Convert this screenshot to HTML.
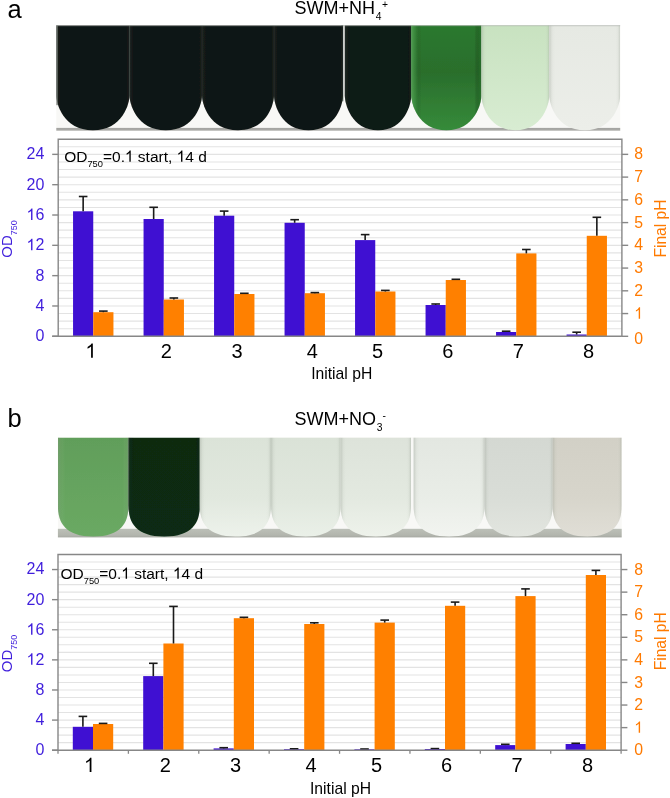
<!DOCTYPE html>
<html><head><meta charset="utf-8">
<style>
html,body{margin:0;padding:0;background:#fff;}
body{width:670px;height:798px;overflow:hidden;}
svg{display:block;font-family:"Liberation Sans", sans-serif;will-change:transform;}
</style></head><body>
<svg width="670" height="798" viewBox="0 0 670 798">
<defs>
<linearGradient id="rimD" x1="0" x2="1" y1="0" y2="0">
<stop offset="0" stop-color="#3a423c" stop-opacity="0.5"/><stop offset="0.03" stop-color="#2a302c" stop-opacity="0.2"/><stop offset="0.08" stop-color="#000" stop-opacity="0"/><stop offset="0.94" stop-color="#000" stop-opacity="0"/><stop offset="0.985" stop-color="#2a302c" stop-opacity="0.25"/><stop offset="1" stop-color="#3a423c" stop-opacity="0.5"/>
</linearGradient>
<linearGradient id="rimL" x1="0" x2="1" y1="0" y2="0">
<stop offset="0" stop-color="#8f978c" stop-opacity="0.35"/><stop offset="0.04" stop-color="#9aa396" stop-opacity="0.08"/><stop offset="0.1" stop-color="#fff" stop-opacity="0"/><stop offset="0.92" stop-color="#fff" stop-opacity="0"/><stop offset="0.97" stop-color="#9aa396" stop-opacity="0.08"/><stop offset="1" stop-color="#8f978c" stop-opacity="0.35"/>
</linearGradient>
<linearGradient id="g6" x1="0" x2="0" y1="0" y2="1">
<stop offset="0" stop-color="#2c792f"/><stop offset="0.45" stop-color="#2a6e2c"/><stop offset="1" stop-color="#368b3a"/>
</linearGradient>
<linearGradient id="g7" x1="0" x2="0" y1="0" y2="1">
<stop offset="0" stop-color="#c8e2c0"/><stop offset="1" stop-color="#d8ecd2"/>
</linearGradient>
<linearGradient id="g8" x1="0" x2="0" y1="0" y2="1">
<stop offset="0" stop-color="#e6e9e3"/><stop offset="1" stop-color="#eceee9"/>
</linearGradient>
<linearGradient id="b1" x1="0" x2="0" y1="0" y2="1">
<stop offset="0" stop-color="#619e5a"/><stop offset="1" stop-color="#6aa963"/>
</linearGradient>
<linearGradient id="b2" x1="0" x2="0" y1="0" y2="1">
<stop offset="0" stop-color="#072a11"/><stop offset="1" stop-color="#082c12"/>
</linearGradient>
<linearGradient id="t3" x1="0" x2="0" y1="0" y2="1"><stop offset="0" stop-color="#dbe3d8"/><stop offset="0.6" stop-color="#e1e8de"/><stop offset="1" stop-color="#edf2eb"/></linearGradient>
<linearGradient id="t4" x1="0" x2="0" y1="0" y2="1"><stop offset="0" stop-color="#dae2d7"/><stop offset="0.6" stop-color="#e0e7dd"/><stop offset="1" stop-color="#eaf0e8"/></linearGradient>
<linearGradient id="t5" x1="0" x2="0" y1="0" y2="1"><stop offset="0" stop-color="#dde3da"/><stop offset="0.6" stop-color="#e3e9e0"/><stop offset="1" stop-color="#eef2eb"/></linearGradient>
<linearGradient id="t6" x1="0" x2="0" y1="0" y2="1"><stop offset="0" stop-color="#e3e7e1"/><stop offset="0.6" stop-color="#e9ede7"/><stop offset="1" stop-color="#f2f4f0"/></linearGradient>
<linearGradient id="t7" x1="0" x2="0" y1="0" y2="1"><stop offset="0" stop-color="#d4d8d2"/><stop offset="0.6" stop-color="#d9ddd7"/><stop offset="1" stop-color="#e2e5df"/></linearGradient>
<linearGradient id="t8" x1="0" x2="0" y1="0" y2="1"><stop offset="0" stop-color="#d2d0c6"/><stop offset="0.6" stop-color="#d7d5cb"/><stop offset="1" stop-color="#e0ded6"/></linearGradient>
<linearGradient id="rimG" x1="0" x2="1" y1="0" y2="0">
<stop offset="0" stop-color="#5aa85a" stop-opacity="0.8"/><stop offset="0.06" stop-color="#4c9c4e" stop-opacity="0.3"/><stop offset="0.14" stop-color="#000" stop-opacity="0"/><stop offset="0.9" stop-color="#000" stop-opacity="0"/><stop offset="0.97" stop-color="#1d5a20" stop-opacity="0.4"/><stop offset="1" stop-color="#2c6e2e" stop-opacity="0.6"/>
</linearGradient>
<linearGradient id="greyA" x1="0" x2="0" y1="0" y2="1">
<stop offset="0" stop-color="#a3a3a0"/><stop offset="0.6" stop-color="#a9a9a6"/><stop offset="1" stop-color="#d8d8d6"/>
</linearGradient>
<linearGradient id="greyB" x1="0" x2="0" y1="0" y2="1">
<stop offset="0" stop-color="#bcc0b8"/><stop offset="0.75" stop-color="#b2b5ad"/><stop offset="1" stop-color="#a6a8a2"/>
</linearGradient>
<filter id="soft" x="-5%" y="-5%" width="110%" height="110%"><feGaussianBlur stdDeviation="0.7"/></filter>
<clipPath id="clipA"><rect x="56.3" y="25.2" width="563.9" height="105.8"/></clipPath>
<clipPath id="clipB"><rect x="57.9" y="437.4" width="563.8" height="100"/></clipPath>
</defs>

<text x="7.4" y="17.6" font-size="25.5" fill="#000">a</text>
<text x="294.4" y="13.9" font-size="18" fill="#000">SWM+NH<tspan font-size="10.3" dx="0.8" dy="5.7">4</tspan><tspan font-size="10.3" dx="0.6" dy="-11.6">+</tspan></text>
<text x="7.6" y="426.5" font-size="25.5" fill="#000">b</text>
<text x="294.4" y="424.6" font-size="18" fill="#000">SWM+NO<tspan font-size="10.3" dx="0.8" dy="6.4">3</tspan><tspan font-size="10.3" dy="-11.9">-</tspan></text>
<rect x="56.3" y="25.2" width="563.9000000000001" height="105.8" fill="#f8f8f6"/>
<rect x="56.3" y="127.9" width="563.9000000000001" height="3.0999999999999943" fill="url(#greyA)"/>
<rect x="341.3" y="25.2" width="2.1" height="76" fill="#7f8f85"/>
<g clip-path="url(#clipA)"><g filter="url(#soft)">
<path d="M56.3,25.2 L56.3,95.2 C56.3,103.2 62.9,130.2 92.9,130.2 C122.9,130.2 129.5,103.2 129.5,95.2 L129.5,25.2 Z" fill="#101614"/>
<path d="M56.3,25.2 L56.3,95.2 C56.3,103.2 62.9,130.2 92.9,130.2 C122.9,130.2 129.5,103.2 129.5,95.2 L129.5,25.2 Z" fill="url(#rimD)"/>
<path d="M129.5,25.2 L129.5,95.2 C129.5,103.2 136.0,130.2 165.8,130.2 C195.5,130.2 202.0,103.2 202.0,95.2 L202.0,25.2 Z" fill="#101614"/>
<path d="M129.5,25.2 L129.5,95.2 C129.5,103.2 136.0,130.2 165.8,130.2 C195.5,130.2 202.0,103.2 202.0,95.2 L202.0,25.2 Z" fill="url(#rimD)"/>
<path d="M202.0,25.2 L202.0,95.2 C202.0,103.2 208.5,130.2 238.0,130.2 C267.5,130.2 274.0,103.2 274.0,95.2 L274.0,25.2 Z" fill="#101614"/>
<path d="M202.0,25.2 L202.0,95.2 C202.0,103.2 208.5,130.2 238.0,130.2 C267.5,130.2 274.0,103.2 274.0,95.2 L274.0,25.2 Z" fill="url(#rimD)"/>
<path d="M274.0,25.2 L274.0,95.2 C274.0,103.2 280.2,130.2 308.5,130.2 C336.8,130.2 343.0,103.2 343.0,95.2 L343.0,25.2 Z" fill="#101614"/>
<path d="M274.0,25.2 L274.0,95.2 C274.0,103.2 280.2,130.2 308.5,130.2 C336.8,130.2 343.0,103.2 343.0,95.2 L343.0,25.2 Z" fill="url(#rimD)"/>
<path d="M344.8,25.2 L344.8,95.2 C344.8,103.2 350.8,130.2 378.1,130.2 C405.3,130.2 411.3,103.2 411.3,95.2 L411.3,25.2 Z" fill="#101a15"/>
<path d="M344.8,25.2 L344.8,95.2 C344.8,103.2 350.8,130.2 378.1,130.2 C405.3,130.2 411.3,103.2 411.3,95.2 L411.3,25.2 Z" fill="url(#rimD)"/>
<path d="M411.3,25.2 L411.3,95.2 C411.3,103.2 417.6,130.2 446.4,130.2 C475.1,130.2 481.4,103.2 481.4,95.2 L481.4,25.2 Z" fill="url(#g6)"/>
<path d="M411.3,25.2 L411.3,95.2 C411.3,103.2 417.6,130.2 446.4,130.2 C475.1,130.2 481.4,103.2 481.4,95.2 L481.4,25.2 Z" fill="url(#rimG)"/>
<path d="M481.4,25.2 L481.4,95.2 C481.4,103.2 487.5,130.2 515.3,130.2 C543.2,130.2 549.3,103.2 549.3,95.2 L549.3,25.2 Z" fill="url(#g7)"/>
<path d="M481.4,25.2 L481.4,95.2 C481.4,103.2 487.5,130.2 515.3,130.2 C543.2,130.2 549.3,103.2 549.3,95.2 L549.3,25.2 Z" fill="url(#rimL)"/>
<path d="M549.3,25.2 L549.3,95.2 C549.3,103.2 555.7,130.2 584.8,130.2 C613.8,130.2 620.2,103.2 620.2,95.2 L620.2,25.2 Z" fill="url(#g8)"/>
<path d="M549.3,25.2 L549.3,95.2 C549.3,103.2 555.7,130.2 584.8,130.2 C613.8,130.2 620.2,103.2 620.2,95.2 L620.2,25.2 Z" fill="url(#rimL)"/>
</g></g>
<rect x="56.3" y="25.2" width="1.6" height="80" fill="#6d726e" opacity="0.8"/>
<rect x="56.3" y="25.2" width="563.9" height="1" fill="#a9ada9" opacity="0.6"/>
<rect x="57.9" y="437.4" width="563.8000000000001" height="100.0" fill="#f8f8f6"/>
<rect x="57.9" y="528.8" width="563.8000000000001" height="8.600000000000023" fill="url(#greyB)"/>
<g clip-path="url(#clipB)"><g filter="url(#soft)">
<path d="M57.9,437.4 L57.9,505.6 C57.9,523.0 65.3,536.6 93.2,536.6 C121.1,536.6 128.5,523.0 128.5,505.6 L128.5,437.4 Z" fill="url(#b1)"/>
<path d="M57.9,437.4 L57.9,505.6 C57.9,523.0 65.3,536.6 93.2,536.6 C121.1,536.6 128.5,523.0 128.5,505.6 L128.5,437.4 Z" fill="url(#rimL)"/>
<path d="M128.5,437.4 L128.5,505.6 C128.5,523.0 136.0,536.6 164.2,536.6 C192.3,536.6 199.8,523.0 199.8,505.6 L199.8,437.4 Z" fill="url(#b2)"/>
<path d="M128.5,437.4 L128.5,505.6 C128.5,523.0 136.0,536.6 164.2,536.6 C192.3,536.6 199.8,523.0 199.8,505.6 L199.8,437.4 Z" fill="url(#rimD)"/>
<path d="M199.8,437.4 L199.8,505.6 C199.8,523.0 207.3,536.6 235.4,536.6 C263.5,536.6 271.0,523.0 271.0,505.6 L271.0,437.4 Z" fill="url(#t3)"/>
<path d="M199.8,437.4 L199.8,505.6 C199.8,523.0 207.3,536.6 235.4,536.6 C263.5,536.6 271.0,523.0 271.0,505.6 L271.0,437.4 Z" fill="url(#rimL)"/>
<path d="M271.0,437.4 L271.0,505.6 C271.0,523.0 278.3,536.6 305.8,536.6 C333.3,536.6 340.6,523.0 340.6,505.6 L340.6,437.4 Z" fill="url(#t4)"/>
<path d="M271.0,437.4 L271.0,505.6 C271.0,523.0 278.3,536.6 305.8,536.6 C333.3,536.6 340.6,523.0 340.6,505.6 L340.6,437.4 Z" fill="url(#rimL)"/>
<path d="M340.6,437.4 L340.6,505.6 C340.6,523.0 348.0,536.6 375.8,536.6 C403.6,536.6 411.0,523.0 411.0,505.6 L411.0,437.4 Z" fill="url(#t5)"/>
<path d="M340.6,437.4 L340.6,505.6 C340.6,523.0 348.0,536.6 375.8,536.6 C403.6,536.6 411.0,523.0 411.0,505.6 L411.0,437.4 Z" fill="url(#rimL)"/>
<path d="M413.6,437.4 L413.6,505.6 C413.6,523.0 421.0,536.6 449.1,536.6 C477.1,536.6 484.5,523.0 484.5,505.6 L484.5,437.4 Z" fill="url(#t6)"/>
<path d="M413.6,437.4 L413.6,505.6 C413.6,523.0 421.0,536.6 449.1,536.6 C477.1,536.6 484.5,523.0 484.5,505.6 L484.5,437.4 Z" fill="url(#rimL)"/>
<path d="M484.5,437.4 L484.5,505.6 C484.5,523.0 491.7,536.6 518.5,536.6 C545.4,536.6 552.6,523.0 552.6,505.6 L552.6,437.4 Z" fill="url(#t7)"/>
<path d="M484.5,437.4 L484.5,505.6 C484.5,523.0 491.7,536.6 518.5,536.6 C545.4,536.6 552.6,523.0 552.6,505.6 L552.6,437.4 Z" fill="url(#rimL)"/>
<path d="M552.6,437.4 L552.6,505.6 C552.6,523.0 559.9,536.6 587.2,536.6 C614.4,536.6 621.7,523.0 621.7,505.6 L621.7,437.4 Z" fill="url(#t8)"/>
<path d="M552.6,437.4 L552.6,505.6 C552.6,523.0 559.9,536.6 587.2,536.6 C614.4,536.6 621.7,523.0 621.7,505.6 L621.7,437.4 Z" fill="url(#rimL)"/>
</g></g>
<line x1="58.2" x2="621.9" y1="328.72" y2="328.72" stroke="#e3e3e3" stroke-width="1.1"/>
<line x1="58.2" x2="621.9" y1="321.14" y2="321.14" stroke="#e3e3e3" stroke-width="1.1"/>
<line x1="58.2" x2="621.9" y1="313.56" y2="313.56" stroke="#e3e3e3" stroke-width="1.1"/>
<line x1="58.2" x2="621.9" y1="305.98" y2="305.98" stroke="#e3e3e3" stroke-width="1.1"/>
<line x1="58.2" x2="621.9" y1="298.40" y2="298.40" stroke="#e3e3e3" stroke-width="1.1"/>
<line x1="58.2" x2="621.9" y1="290.82" y2="290.82" stroke="#e3e3e3" stroke-width="1.1"/>
<line x1="58.2" x2="621.9" y1="283.23" y2="283.23" stroke="#e3e3e3" stroke-width="1.1"/>
<line x1="58.2" x2="621.9" y1="275.65" y2="275.65" stroke="#e3e3e3" stroke-width="1.1"/>
<line x1="58.2" x2="621.9" y1="268.07" y2="268.07" stroke="#e3e3e3" stroke-width="1.1"/>
<line x1="58.2" x2="621.9" y1="260.49" y2="260.49" stroke="#e3e3e3" stroke-width="1.1"/>
<line x1="58.2" x2="621.9" y1="252.91" y2="252.91" stroke="#e3e3e3" stroke-width="1.1"/>
<line x1="58.2" x2="621.9" y1="245.33" y2="245.33" stroke="#e3e3e3" stroke-width="1.1"/>
<line x1="58.2" x2="621.9" y1="237.75" y2="237.75" stroke="#e3e3e3" stroke-width="1.1"/>
<line x1="58.2" x2="621.9" y1="230.17" y2="230.17" stroke="#e3e3e3" stroke-width="1.1"/>
<line x1="58.2" x2="621.9" y1="222.59" y2="222.59" stroke="#e3e3e3" stroke-width="1.1"/>
<line x1="58.2" x2="621.9" y1="215.01" y2="215.01" stroke="#e3e3e3" stroke-width="1.1"/>
<line x1="58.2" x2="621.9" y1="207.43" y2="207.43" stroke="#e3e3e3" stroke-width="1.1"/>
<line x1="58.2" x2="621.9" y1="199.85" y2="199.85" stroke="#e3e3e3" stroke-width="1.1"/>
<line x1="58.2" x2="621.9" y1="192.27" y2="192.27" stroke="#e3e3e3" stroke-width="1.1"/>
<line x1="58.2" x2="621.9" y1="184.68" y2="184.68" stroke="#e3e3e3" stroke-width="1.1"/>
<line x1="58.2" x2="621.9" y1="177.10" y2="177.10" stroke="#e3e3e3" stroke-width="1.1"/>
<line x1="58.2" x2="621.9" y1="169.52" y2="169.52" stroke="#e3e3e3" stroke-width="1.1"/>
<line x1="58.2" x2="621.9" y1="161.94" y2="161.94" stroke="#e3e3e3" stroke-width="1.1"/>
<line x1="58.2" x2="621.9" y1="154.36" y2="154.36" stroke="#e3e3e3" stroke-width="1.1"/>
<line x1="58.2" x2="621.9" y1="146.78" y2="146.78" stroke="#e3e3e3" stroke-width="1.1"/>
<text x="64.20" y="161.70" font-size="15.5" fill="#000"  xml:space="preserve">OD</text>
<text x="87.45" y="167.00" font-size="9.3" fill="#000">750</text>
<text x="102.97" y="161.70" font-size="15.5" fill="#000"  xml:space="preserve">=0.</text>
<path d="M0.373,0 L0.285,0 L0.285,-0.560 C0.264,-0.540 0.236,-0.519 0.201,-0.499 C0.166,-0.478 0.135,-0.463 0.109,-0.453 L0.109,-0.538 C0.156,-0.560 0.197,-0.587 0.232,-0.618 C0.267,-0.649 0.292,-0.681 0.307,-0.716 L0.373,-0.716 Z" transform="translate(124.95,161.70) scale(15.5)" fill="#000"/>
<text x="133.57" y="161.70" font-size="15.5" fill="#000"  xml:space="preserve"> start, </text>
<path d="M0.373,0 L0.285,0 L0.285,-0.560 C0.264,-0.540 0.236,-0.519 0.201,-0.499 C0.166,-0.478 0.135,-0.463 0.109,-0.453 L0.109,-0.538 C0.156,-0.560 0.197,-0.587 0.232,-0.618 C0.267,-0.649 0.292,-0.681 0.307,-0.716 L0.373,-0.716 Z" transform="translate(176.63,161.70) scale(15.5)" fill="#000"/>
<text x="185.25" y="161.70" font-size="15.5" fill="#000"  xml:space="preserve">4 d</text>
<rect x="73.05" y="211.30" width="20.20" height="125.00" fill="#3f10d2"/>
<rect x="93.25" y="312.20" width="20.20" height="24.10" fill="#ff8000"/>
<line x1="83.15" x2="83.15" y1="211.30" y2="196.50" stroke="#1a1a1a" stroke-width="1.6"/>
<line x1="78.85" x2="87.45" y1="196.50" y2="196.50" stroke="#1a1a1a" stroke-width="1.6"/>
<line x1="103.35" x2="103.35" y1="312.20" y2="311.10" stroke="#1a1a1a" stroke-width="1.6"/>
<line x1="99.05" x2="107.65" y1="311.10" y2="311.10" stroke="#1a1a1a" stroke-width="1.6"/>
<rect x="143.55" y="219.00" width="20.20" height="117.30" fill="#3f10d2"/>
<rect x="163.75" y="299.50" width="20.20" height="36.80" fill="#ff8000"/>
<line x1="153.65" x2="153.65" y1="219.00" y2="207.30" stroke="#1a1a1a" stroke-width="1.6"/>
<line x1="149.35" x2="157.95" y1="207.30" y2="207.30" stroke="#1a1a1a" stroke-width="1.6"/>
<line x1="173.85" x2="173.85" y1="299.50" y2="298.00" stroke="#1a1a1a" stroke-width="1.6"/>
<line x1="169.55" x2="178.15" y1="298.00" y2="298.00" stroke="#1a1a1a" stroke-width="1.6"/>
<rect x="214.05" y="215.70" width="20.20" height="120.60" fill="#3f10d2"/>
<rect x="234.25" y="294.00" width="20.20" height="42.30" fill="#ff8000"/>
<line x1="224.15" x2="224.15" y1="215.70" y2="211.10" stroke="#1a1a1a" stroke-width="1.6"/>
<line x1="219.85" x2="228.45" y1="211.10" y2="211.10" stroke="#1a1a1a" stroke-width="1.6"/>
<line x1="244.35" x2="244.35" y1="294.00" y2="293.30" stroke="#1a1a1a" stroke-width="1.6"/>
<line x1="240.05" x2="248.65" y1="293.30" y2="293.30" stroke="#1a1a1a" stroke-width="1.6"/>
<rect x="284.55" y="222.80" width="20.20" height="113.50" fill="#3f10d2"/>
<rect x="304.75" y="293.20" width="20.20" height="43.10" fill="#ff8000"/>
<line x1="294.65" x2="294.65" y1="222.80" y2="219.70" stroke="#1a1a1a" stroke-width="1.6"/>
<line x1="290.35" x2="298.95" y1="219.70" y2="219.70" stroke="#1a1a1a" stroke-width="1.6"/>
<line x1="314.85" x2="314.85" y1="293.20" y2="292.60" stroke="#1a1a1a" stroke-width="1.6"/>
<line x1="310.55" x2="319.15" y1="292.60" y2="292.60" stroke="#1a1a1a" stroke-width="1.6"/>
<rect x="355.05" y="240.10" width="20.20" height="96.20" fill="#3f10d2"/>
<rect x="375.25" y="291.50" width="20.20" height="44.80" fill="#ff8000"/>
<line x1="365.15" x2="365.15" y1="240.10" y2="234.60" stroke="#1a1a1a" stroke-width="1.6"/>
<line x1="360.85" x2="369.45" y1="234.60" y2="234.60" stroke="#1a1a1a" stroke-width="1.6"/>
<line x1="385.35" x2="385.35" y1="291.50" y2="290.40" stroke="#1a1a1a" stroke-width="1.6"/>
<line x1="381.05" x2="389.65" y1="290.40" y2="290.40" stroke="#1a1a1a" stroke-width="1.6"/>
<rect x="425.55" y="305.00" width="20.20" height="31.30" fill="#3f10d2"/>
<rect x="445.75" y="280.00" width="20.20" height="56.30" fill="#ff8000"/>
<line x1="435.65" x2="435.65" y1="305.00" y2="304.00" stroke="#1a1a1a" stroke-width="1.6"/>
<line x1="431.35" x2="439.95" y1="304.00" y2="304.00" stroke="#1a1a1a" stroke-width="1.6"/>
<line x1="455.85" x2="455.85" y1="280.00" y2="279.30" stroke="#1a1a1a" stroke-width="1.6"/>
<line x1="451.55" x2="460.15" y1="279.30" y2="279.30" stroke="#1a1a1a" stroke-width="1.6"/>
<rect x="496.05" y="332.00" width="20.20" height="4.30" fill="#3f10d2"/>
<rect x="516.25" y="253.40" width="20.20" height="82.90" fill="#ff8000"/>
<line x1="506.15" x2="506.15" y1="332.00" y2="331.20" stroke="#1a1a1a" stroke-width="1.6"/>
<line x1="501.85" x2="510.45" y1="331.20" y2="331.20" stroke="#1a1a1a" stroke-width="1.6"/>
<line x1="526.35" x2="526.35" y1="253.40" y2="249.50" stroke="#1a1a1a" stroke-width="1.6"/>
<line x1="522.05" x2="530.65" y1="249.50" y2="249.50" stroke="#1a1a1a" stroke-width="1.6"/>
<rect x="566.55" y="334.50" width="20.20" height="1.80" fill="#3f10d2"/>
<rect x="586.75" y="235.80" width="20.20" height="100.50" fill="#ff8000"/>
<line x1="576.65" x2="576.65" y1="334.50" y2="332.20" stroke="#1a1a1a" stroke-width="1.6"/>
<line x1="572.35" x2="580.95" y1="332.20" y2="332.20" stroke="#1a1a1a" stroke-width="1.6"/>
<line x1="596.85" x2="596.85" y1="235.80" y2="217.30" stroke="#1a1a1a" stroke-width="1.6"/>
<line x1="592.55" x2="601.15" y1="217.30" y2="217.30" stroke="#1a1a1a" stroke-width="1.6"/>
<path d="M58.2,336.3 L58.2,139.2 L621.9,139.2 L621.9,336.3" fill="none" stroke="#878787" stroke-width="1.4"/>
<line x1="52.2" x2="621.9" y1="336.3" y2="336.3" stroke="#878787" stroke-width="1.4"/>
<line x1="52.2" x2="58.2" y1="336.30" y2="336.30" stroke="#878787" stroke-width="1.4"/>
<text x="35.40" y="341.20" font-size="16" fill="#3f1edc"  xml:space="preserve">0</text>
<line x1="52.2" x2="58.2" y1="305.98" y2="305.98" stroke="#878787" stroke-width="1.4"/>
<text x="35.40" y="310.88" font-size="16" fill="#3f1edc"  xml:space="preserve">4</text>
<line x1="52.2" x2="58.2" y1="275.65" y2="275.65" stroke="#878787" stroke-width="1.4"/>
<text x="35.40" y="280.55" font-size="16" fill="#3f1edc"  xml:space="preserve">8</text>
<line x1="52.2" x2="58.2" y1="245.33" y2="245.33" stroke="#878787" stroke-width="1.4"/>
<path d="M0.373,0 L0.285,0 L0.285,-0.560 C0.264,-0.540 0.236,-0.519 0.201,-0.499 C0.166,-0.478 0.135,-0.463 0.109,-0.453 L0.109,-0.538 C0.156,-0.560 0.197,-0.587 0.232,-0.618 C0.267,-0.649 0.292,-0.681 0.307,-0.716 L0.373,-0.716 Z" transform="translate(26.50,250.23) scale(16)" fill="#3f1edc"/>
<text x="35.40" y="250.23" font-size="16" fill="#3f1edc"  xml:space="preserve">2</text>
<line x1="52.2" x2="58.2" y1="215.01" y2="215.01" stroke="#878787" stroke-width="1.4"/>
<path d="M0.373,0 L0.285,0 L0.285,-0.560 C0.264,-0.540 0.236,-0.519 0.201,-0.499 C0.166,-0.478 0.135,-0.463 0.109,-0.453 L0.109,-0.538 C0.156,-0.560 0.197,-0.587 0.232,-0.618 C0.267,-0.649 0.292,-0.681 0.307,-0.716 L0.373,-0.716 Z" transform="translate(26.50,219.91) scale(16)" fill="#3f1edc"/>
<text x="35.40" y="219.91" font-size="16" fill="#3f1edc"  xml:space="preserve">6</text>
<line x1="52.2" x2="58.2" y1="184.68" y2="184.68" stroke="#878787" stroke-width="1.4"/>
<text x="26.50" y="189.58" font-size="16" fill="#3f1edc"  xml:space="preserve">20</text>
<line x1="52.2" x2="58.2" y1="154.36" y2="154.36" stroke="#878787" stroke-width="1.4"/>
<text x="26.50" y="159.26" font-size="16" fill="#3f1edc"  xml:space="preserve">24</text>
<line x1="621.9" x2="628.1999999999999" y1="336.30" y2="336.30" stroke="#878787" stroke-width="1.4"/>
<text x="634.2" y="343.70" font-size="15.8" fill="#ff7a00">0</text>
<line x1="621.9" x2="628.1999999999999" y1="313.56" y2="313.56" stroke="#878787" stroke-width="1.4"/>
<path d="M0.373,0 L0.285,0 L0.285,-0.560 C0.264,-0.540 0.236,-0.519 0.201,-0.499 C0.166,-0.478 0.135,-0.463 0.109,-0.453 L0.109,-0.538 C0.156,-0.560 0.197,-0.587 0.232,-0.618 C0.267,-0.649 0.292,-0.681 0.307,-0.716 L0.373,-0.716 Z" transform="translate(634.20,318.66) scale(15.8)" fill="#ff7a00"/>
<line x1="621.9" x2="628.1999999999999" y1="290.82" y2="290.82" stroke="#878787" stroke-width="1.4"/>
<text x="634.2" y="295.92" font-size="15.8" fill="#ff7a00">2</text>
<line x1="621.9" x2="628.1999999999999" y1="268.07" y2="268.07" stroke="#878787" stroke-width="1.4"/>
<text x="634.2" y="273.17" font-size="15.8" fill="#ff7a00">3</text>
<line x1="621.9" x2="628.1999999999999" y1="245.33" y2="245.33" stroke="#878787" stroke-width="1.4"/>
<text x="634.2" y="250.43" font-size="15.8" fill="#ff7a00">4</text>
<line x1="621.9" x2="628.1999999999999" y1="222.59" y2="222.59" stroke="#878787" stroke-width="1.4"/>
<text x="634.2" y="227.69" font-size="15.8" fill="#ff7a00">5</text>
<line x1="621.9" x2="628.1999999999999" y1="199.85" y2="199.85" stroke="#878787" stroke-width="1.4"/>
<text x="634.2" y="204.95" font-size="15.8" fill="#ff7a00">6</text>
<line x1="621.9" x2="628.1999999999999" y1="177.10" y2="177.10" stroke="#878787" stroke-width="1.4"/>
<text x="634.2" y="182.20" font-size="15.8" fill="#ff7a00">7</text>
<line x1="621.9" x2="628.1999999999999" y1="154.36" y2="154.36" stroke="#878787" stroke-width="1.4"/>
<text x="634.2" y="159.46" font-size="15.8" fill="#ff7a00">8</text>
<path d="M0.373,0 L0.285,0 L0.285,-0.560 C0.264,-0.540 0.236,-0.519 0.201,-0.499 C0.166,-0.478 0.135,-0.463 0.109,-0.453 L0.109,-0.538 C0.156,-0.560 0.197,-0.587 0.232,-0.618 C0.267,-0.649 0.292,-0.681 0.307,-0.716 L0.373,-0.716 Z" transform="translate(85.38,357.70) scale(20)" fill="#000"/>
<text x="166.40" y="357.7" font-size="20" fill="#000" text-anchor="middle">2</text>
<text x="237.00" y="357.7" font-size="20" fill="#000" text-anchor="middle">3</text>
<text x="312.30" y="357.7" font-size="20" fill="#000" text-anchor="middle">4</text>
<text x="377.60" y="357.7" font-size="20" fill="#000" text-anchor="middle">5</text>
<text x="447.70" y="357.7" font-size="20" fill="#000" text-anchor="middle">6</text>
<text x="518.40" y="357.7" font-size="20" fill="#000" text-anchor="middle">7</text>
<text x="588.60" y="357.7" font-size="20" fill="#000" text-anchor="middle">8</text>
<text x="311.2" y="379.2" font-size="15.7" fill="#000">Initial pH</text>
<text transform="translate(11.9,257.7) rotate(-90)" font-size="15" fill="#3f1edc">OD<tspan font-size="9" dy="5">750</tspan></text>
<text transform="translate(665.5,257.6) rotate(-90)" font-size="15.6" fill="#ff7a00">Final pH</text>
<line x1="58.0" x2="621.1" y1="742.67" y2="742.67" stroke="#e3e3e3" stroke-width="1.1"/>
<line x1="58.0" x2="621.1" y1="735.15" y2="735.15" stroke="#e3e3e3" stroke-width="1.1"/>
<line x1="58.0" x2="621.1" y1="727.62" y2="727.62" stroke="#e3e3e3" stroke-width="1.1"/>
<line x1="58.0" x2="621.1" y1="720.09" y2="720.09" stroke="#e3e3e3" stroke-width="1.1"/>
<line x1="58.0" x2="621.1" y1="712.57" y2="712.57" stroke="#e3e3e3" stroke-width="1.1"/>
<line x1="58.0" x2="621.1" y1="705.04" y2="705.04" stroke="#e3e3e3" stroke-width="1.1"/>
<line x1="58.0" x2="621.1" y1="697.51" y2="697.51" stroke="#e3e3e3" stroke-width="1.1"/>
<line x1="58.0" x2="621.1" y1="689.98" y2="689.98" stroke="#e3e3e3" stroke-width="1.1"/>
<line x1="58.0" x2="621.1" y1="682.46" y2="682.46" stroke="#e3e3e3" stroke-width="1.1"/>
<line x1="58.0" x2="621.1" y1="674.93" y2="674.93" stroke="#e3e3e3" stroke-width="1.1"/>
<line x1="58.0" x2="621.1" y1="667.40" y2="667.40" stroke="#e3e3e3" stroke-width="1.1"/>
<line x1="58.0" x2="621.1" y1="659.88" y2="659.88" stroke="#e3e3e3" stroke-width="1.1"/>
<line x1="58.0" x2="621.1" y1="652.35" y2="652.35" stroke="#e3e3e3" stroke-width="1.1"/>
<line x1="58.0" x2="621.1" y1="644.82" y2="644.82" stroke="#e3e3e3" stroke-width="1.1"/>
<line x1="58.0" x2="621.1" y1="637.30" y2="637.30" stroke="#e3e3e3" stroke-width="1.1"/>
<line x1="58.0" x2="621.1" y1="629.77" y2="629.77" stroke="#e3e3e3" stroke-width="1.1"/>
<line x1="58.0" x2="621.1" y1="622.24" y2="622.24" stroke="#e3e3e3" stroke-width="1.1"/>
<line x1="58.0" x2="621.1" y1="614.72" y2="614.72" stroke="#e3e3e3" stroke-width="1.1"/>
<line x1="58.0" x2="621.1" y1="607.19" y2="607.19" stroke="#e3e3e3" stroke-width="1.1"/>
<line x1="58.0" x2="621.1" y1="599.66" y2="599.66" stroke="#e3e3e3" stroke-width="1.1"/>
<line x1="58.0" x2="621.1" y1="592.13" y2="592.13" stroke="#e3e3e3" stroke-width="1.1"/>
<line x1="58.0" x2="621.1" y1="584.61" y2="584.61" stroke="#e3e3e3" stroke-width="1.1"/>
<line x1="58.0" x2="621.1" y1="577.08" y2="577.08" stroke="#e3e3e3" stroke-width="1.1"/>
<line x1="58.0" x2="621.1" y1="569.55" y2="569.55" stroke="#e3e3e3" stroke-width="1.1"/>
<line x1="58.0" x2="621.1" y1="562.03" y2="562.03" stroke="#e3e3e3" stroke-width="1.1"/>
<text x="60.50" y="578.70" font-size="15.5" fill="#000"  xml:space="preserve">OD</text>
<text x="83.75" y="584.00" font-size="9.3" fill="#000">750</text>
<text x="99.27" y="578.70" font-size="15.5" fill="#000"  xml:space="preserve">=0.</text>
<path d="M0.373,0 L0.285,0 L0.285,-0.560 C0.264,-0.540 0.236,-0.519 0.201,-0.499 C0.166,-0.478 0.135,-0.463 0.109,-0.453 L0.109,-0.538 C0.156,-0.560 0.197,-0.587 0.232,-0.618 C0.267,-0.649 0.292,-0.681 0.307,-0.716 L0.373,-0.716 Z" transform="translate(121.25,578.70) scale(15.5)" fill="#000"/>
<text x="129.87" y="578.70" font-size="15.5" fill="#000"  xml:space="preserve"> start, </text>
<path d="M0.373,0 L0.285,0 L0.285,-0.560 C0.264,-0.540 0.236,-0.519 0.201,-0.499 C0.166,-0.478 0.135,-0.463 0.109,-0.453 L0.109,-0.538 C0.156,-0.560 0.197,-0.587 0.232,-0.618 C0.267,-0.649 0.292,-0.681 0.307,-0.716 L0.373,-0.716 Z" transform="translate(172.93,578.70) scale(15.5)" fill="#000"/>
<text x="181.55" y="578.70" font-size="15.5" fill="#000"  xml:space="preserve">4 d</text>
<rect x="72.80" y="726.80" width="20.20" height="23.40" fill="#3f10d2"/>
<rect x="93.00" y="724.00" width="20.20" height="26.20" fill="#ff8000"/>
<line x1="82.90" x2="82.90" y1="726.80" y2="716.40" stroke="#1a1a1a" stroke-width="1.6"/>
<line x1="78.60" x2="87.20" y1="716.40" y2="716.40" stroke="#1a1a1a" stroke-width="1.6"/>
<line x1="103.10" x2="103.10" y1="724.00" y2="723.40" stroke="#1a1a1a" stroke-width="1.6"/>
<line x1="98.80" x2="107.40" y1="723.40" y2="723.40" stroke="#1a1a1a" stroke-width="1.6"/>
<rect x="143.20" y="676.10" width="20.20" height="74.10" fill="#3f10d2"/>
<rect x="163.40" y="643.50" width="20.20" height="106.70" fill="#ff8000"/>
<line x1="153.30" x2="153.30" y1="676.10" y2="663.30" stroke="#1a1a1a" stroke-width="1.6"/>
<line x1="149.00" x2="157.60" y1="663.30" y2="663.30" stroke="#1a1a1a" stroke-width="1.6"/>
<line x1="173.50" x2="173.50" y1="643.50" y2="606.40" stroke="#1a1a1a" stroke-width="1.6"/>
<line x1="169.20" x2="177.80" y1="606.40" y2="606.40" stroke="#1a1a1a" stroke-width="1.6"/>
<rect x="213.60" y="748.40" width="20.20" height="1.80" fill="#3f10d2"/>
<rect x="233.80" y="618.20" width="20.20" height="132.00" fill="#ff8000"/>
<line x1="223.70" x2="223.70" y1="748.40" y2="747.70" stroke="#1a1a1a" stroke-width="1.6"/>
<line x1="219.40" x2="228.00" y1="747.70" y2="747.70" stroke="#1a1a1a" stroke-width="1.6"/>
<line x1="243.90" x2="243.90" y1="618.20" y2="617.30" stroke="#1a1a1a" stroke-width="1.6"/>
<line x1="239.60" x2="248.20" y1="617.30" y2="617.30" stroke="#1a1a1a" stroke-width="1.6"/>
<rect x="284.00" y="749.20" width="20.20" height="1.00" fill="#3f10d2"/>
<rect x="304.20" y="624.00" width="20.20" height="126.20" fill="#ff8000"/>
<line x1="294.10" x2="294.10" y1="749.20" y2="748.80" stroke="#1a1a1a" stroke-width="1.6"/>
<line x1="289.80" x2="298.40" y1="748.80" y2="748.80" stroke="#1a1a1a" stroke-width="1.6"/>
<line x1="314.30" x2="314.30" y1="624.00" y2="622.80" stroke="#1a1a1a" stroke-width="1.6"/>
<line x1="310.00" x2="318.60" y1="622.80" y2="622.80" stroke="#1a1a1a" stroke-width="1.6"/>
<rect x="354.40" y="749.30" width="20.20" height="0.90" fill="#3f10d2"/>
<rect x="374.60" y="622.60" width="20.20" height="127.60" fill="#ff8000"/>
<line x1="360.20" x2="368.80" y1="749.00" y2="749.00" stroke="#1a1a1a" stroke-width="1.6"/>
<line x1="384.70" x2="384.70" y1="622.60" y2="620.10" stroke="#1a1a1a" stroke-width="1.6"/>
<line x1="380.40" x2="389.00" y1="620.10" y2="620.10" stroke="#1a1a1a" stroke-width="1.6"/>
<rect x="424.80" y="749.00" width="20.20" height="1.20" fill="#3f10d2"/>
<rect x="445.00" y="605.80" width="20.20" height="144.40" fill="#ff8000"/>
<line x1="434.90" x2="434.90" y1="749.00" y2="748.60" stroke="#1a1a1a" stroke-width="1.6"/>
<line x1="430.60" x2="439.20" y1="748.60" y2="748.60" stroke="#1a1a1a" stroke-width="1.6"/>
<line x1="455.10" x2="455.10" y1="605.80" y2="602.10" stroke="#1a1a1a" stroke-width="1.6"/>
<line x1="450.80" x2="459.40" y1="602.10" y2="602.10" stroke="#1a1a1a" stroke-width="1.6"/>
<rect x="495.20" y="745.10" width="20.20" height="5.10" fill="#3f10d2"/>
<rect x="515.40" y="596.10" width="20.20" height="154.10" fill="#ff8000"/>
<line x1="505.30" x2="505.30" y1="745.10" y2="744.30" stroke="#1a1a1a" stroke-width="1.6"/>
<line x1="501.00" x2="509.60" y1="744.30" y2="744.30" stroke="#1a1a1a" stroke-width="1.6"/>
<line x1="525.50" x2="525.50" y1="596.10" y2="588.90" stroke="#1a1a1a" stroke-width="1.6"/>
<line x1="521.20" x2="529.80" y1="588.90" y2="588.90" stroke="#1a1a1a" stroke-width="1.6"/>
<rect x="565.60" y="744.00" width="20.20" height="6.20" fill="#3f10d2"/>
<rect x="585.80" y="575.00" width="20.20" height="175.20" fill="#ff8000"/>
<line x1="575.70" x2="575.70" y1="744.00" y2="743.30" stroke="#1a1a1a" stroke-width="1.6"/>
<line x1="571.40" x2="580.00" y1="743.30" y2="743.30" stroke="#1a1a1a" stroke-width="1.6"/>
<line x1="595.90" x2="595.90" y1="575.00" y2="570.40" stroke="#1a1a1a" stroke-width="1.6"/>
<line x1="591.60" x2="600.20" y1="570.40" y2="570.40" stroke="#1a1a1a" stroke-width="1.6"/>
<path d="M58.0,750.2 L58.0,554.5 L621.1,554.5 L621.1,750.2" fill="none" stroke="#878787" stroke-width="1.4"/>
<line x1="52.0" x2="621.1" y1="750.2" y2="750.2" stroke="#878787" stroke-width="1.4"/>
<line x1="52.0" x2="58.0" y1="750.20" y2="750.20" stroke="#878787" stroke-width="1.4"/>
<text x="35.40" y="755.10" font-size="16" fill="#3f1edc"  xml:space="preserve">0</text>
<line x1="52.0" x2="58.0" y1="720.09" y2="720.09" stroke="#878787" stroke-width="1.4"/>
<text x="35.40" y="724.99" font-size="16" fill="#3f1edc"  xml:space="preserve">4</text>
<line x1="52.0" x2="58.0" y1="689.98" y2="689.98" stroke="#878787" stroke-width="1.4"/>
<text x="35.40" y="694.88" font-size="16" fill="#3f1edc"  xml:space="preserve">8</text>
<line x1="52.0" x2="58.0" y1="659.88" y2="659.88" stroke="#878787" stroke-width="1.4"/>
<path d="M0.373,0 L0.285,0 L0.285,-0.560 C0.264,-0.540 0.236,-0.519 0.201,-0.499 C0.166,-0.478 0.135,-0.463 0.109,-0.453 L0.109,-0.538 C0.156,-0.560 0.197,-0.587 0.232,-0.618 C0.267,-0.649 0.292,-0.681 0.307,-0.716 L0.373,-0.716 Z" transform="translate(26.50,664.78) scale(16)" fill="#3f1edc"/>
<text x="35.40" y="664.78" font-size="16" fill="#3f1edc"  xml:space="preserve">2</text>
<line x1="52.0" x2="58.0" y1="629.77" y2="629.77" stroke="#878787" stroke-width="1.4"/>
<path d="M0.373,0 L0.285,0 L0.285,-0.560 C0.264,-0.540 0.236,-0.519 0.201,-0.499 C0.166,-0.478 0.135,-0.463 0.109,-0.453 L0.109,-0.538 C0.156,-0.560 0.197,-0.587 0.232,-0.618 C0.267,-0.649 0.292,-0.681 0.307,-0.716 L0.373,-0.716 Z" transform="translate(26.50,634.67) scale(16)" fill="#3f1edc"/>
<text x="35.40" y="634.67" font-size="16" fill="#3f1edc"  xml:space="preserve">6</text>
<line x1="52.0" x2="58.0" y1="599.66" y2="599.66" stroke="#878787" stroke-width="1.4"/>
<text x="26.50" y="604.56" font-size="16" fill="#3f1edc"  xml:space="preserve">20</text>
<line x1="52.0" x2="58.0" y1="569.55" y2="569.55" stroke="#878787" stroke-width="1.4"/>
<text x="26.50" y="574.45" font-size="16" fill="#3f1edc"  xml:space="preserve">24</text>
<line x1="621.1" x2="627.4" y1="750.20" y2="750.20" stroke="#878787" stroke-width="1.4"/>
<text x="634.2" y="755.30" font-size="15.8" fill="#ff7a00">0</text>
<line x1="621.1" x2="627.4" y1="727.62" y2="727.62" stroke="#878787" stroke-width="1.4"/>
<path d="M0.373,0 L0.285,0 L0.285,-0.560 C0.264,-0.540 0.236,-0.519 0.201,-0.499 C0.166,-0.478 0.135,-0.463 0.109,-0.453 L0.109,-0.538 C0.156,-0.560 0.197,-0.587 0.232,-0.618 C0.267,-0.649 0.292,-0.681 0.307,-0.716 L0.373,-0.716 Z" transform="translate(634.20,732.72) scale(15.8)" fill="#ff7a00"/>
<line x1="621.1" x2="627.4" y1="705.04" y2="705.04" stroke="#878787" stroke-width="1.4"/>
<text x="634.2" y="710.14" font-size="15.8" fill="#ff7a00">2</text>
<line x1="621.1" x2="627.4" y1="682.46" y2="682.46" stroke="#878787" stroke-width="1.4"/>
<text x="634.2" y="687.56" font-size="15.8" fill="#ff7a00">3</text>
<line x1="621.1" x2="627.4" y1="659.88" y2="659.88" stroke="#878787" stroke-width="1.4"/>
<text x="634.2" y="664.98" font-size="15.8" fill="#ff7a00">4</text>
<line x1="621.1" x2="627.4" y1="637.30" y2="637.30" stroke="#878787" stroke-width="1.4"/>
<text x="634.2" y="642.40" font-size="15.8" fill="#ff7a00">5</text>
<line x1="621.1" x2="627.4" y1="614.72" y2="614.72" stroke="#878787" stroke-width="1.4"/>
<text x="634.2" y="619.82" font-size="15.8" fill="#ff7a00">6</text>
<line x1="621.1" x2="627.4" y1="592.13" y2="592.13" stroke="#878787" stroke-width="1.4"/>
<text x="634.2" y="597.23" font-size="15.8" fill="#ff7a00">7</text>
<line x1="621.1" x2="627.4" y1="569.55" y2="569.55" stroke="#878787" stroke-width="1.4"/>
<text x="634.2" y="574.65" font-size="15.8" fill="#ff7a00">8</text>
<line x1="58.00" x2="58.00" y1="750.2" y2="753.8000000000001" stroke="#878787" stroke-width="1.3"/>
<line x1="128.39" x2="128.39" y1="750.2" y2="753.8000000000001" stroke="#878787" stroke-width="1.3"/>
<line x1="198.78" x2="198.78" y1="750.2" y2="753.8000000000001" stroke="#878787" stroke-width="1.3"/>
<line x1="269.16" x2="269.16" y1="750.2" y2="753.8000000000001" stroke="#878787" stroke-width="1.3"/>
<line x1="339.55" x2="339.55" y1="750.2" y2="753.8000000000001" stroke="#878787" stroke-width="1.3"/>
<line x1="409.94" x2="409.94" y1="750.2" y2="753.8000000000001" stroke="#878787" stroke-width="1.3"/>
<line x1="480.33" x2="480.33" y1="750.2" y2="753.8000000000001" stroke="#878787" stroke-width="1.3"/>
<line x1="550.71" x2="550.71" y1="750.2" y2="753.8000000000001" stroke="#878787" stroke-width="1.3"/>
<line x1="621.10" x2="621.10" y1="750.2" y2="753.8000000000001" stroke="#878787" stroke-width="1.3"/>
<path d="M0.373,0 L0.285,0 L0.285,-0.560 C0.264,-0.540 0.236,-0.519 0.201,-0.499 C0.166,-0.478 0.135,-0.463 0.109,-0.453 L0.109,-0.538 C0.156,-0.560 0.197,-0.587 0.232,-0.618 C0.267,-0.649 0.292,-0.681 0.307,-0.716 L0.373,-0.716 Z" transform="translate(83.98,772.00) scale(20)" fill="#000"/>
<text x="165.35" y="772.0" font-size="20" fill="#000" text-anchor="middle">2</text>
<text x="235.60" y="772.0" font-size="20" fill="#000" text-anchor="middle">3</text>
<text x="311.00" y="772.0" font-size="20" fill="#000" text-anchor="middle">4</text>
<text x="376.50" y="772.0" font-size="20" fill="#000" text-anchor="middle">5</text>
<text x="446.60" y="772.0" font-size="20" fill="#000" text-anchor="middle">6</text>
<text x="517.00" y="772.0" font-size="20" fill="#000" text-anchor="middle">7</text>
<text x="587.50" y="772.0" font-size="20" fill="#000" text-anchor="middle">8</text>
<text x="310.0" y="794.0" font-size="15.7" fill="#000">Initial pH</text>
<text transform="translate(11.9,672.2) rotate(-90)" font-size="15" fill="#3f1edc">OD<tspan font-size="9" dy="5">750</tspan></text>
<text transform="translate(665.8,670.3) rotate(-90)" font-size="15.6" fill="#ff7a00">Final pH</text>
</svg></body></html>
